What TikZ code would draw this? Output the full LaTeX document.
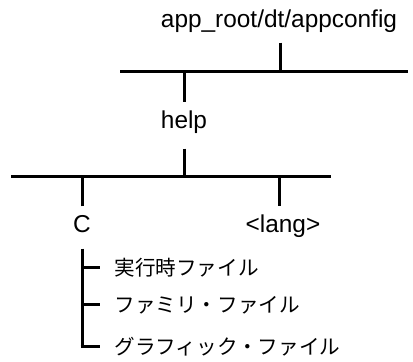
\documentclass[tikz,border=0pt]{standalone}
\usepackage{fontspec}
\setmainfont{Liberation Sans}
\newfontfamily\jpfont{Noto Sans CJK JP}
\usepackage{tikz}
\usetikzlibrary{positioning}

\begin{document}
\begin{tikzpicture}[x=0.5pt,y=-0.5pt,line width=1.5pt,
    dir/.style={font=\fontsize{12.2}{14}\selectfont,inner xsep=0pt,inner ysep=4pt,anchor=base},
    file/.style={font=\jpfont\fontsize{10.3}{12}\selectfont,inner xsep=6.5pt,inner ysep=0pt,anchor=west}]
    \useasboundingbox (0,0) rectangle (413,362);
    \node[dir] (root) at (279,28) {app\_root/dt/appconfig};
    \node[dir] (help) at (184,129) {help};
    \node[dir] (c) at (82,233) {C};
    \node[dir] (lang) at (283,233) {<lang>};
    \node[file] (f1) at (100,268) {実行時ファイル};
    \node[file] (f2) at (100,305) {ファミリ・ファイル};
    \node[file] (f3) at (100,347) {グラフィック・ファイル};
    \coordinate (topw) at (120,72);
    \coordinate (tope) at (408,72);
    \coordinate (botw) at (11,177);
    \coordinate (bote) at (331,177);
    \draw (topw) -- (tope);
    \draw (botw) -- (bote);
    \draw (280,0 |- root.south) -- (280,0 |- topw);
    \draw (help.north) -- (help.north |- topw);
    \draw ([yshift=-2.5pt]help.south) -- (help.south |- botw);
    \draw (c.north) -- (c.north |- botw);
    \draw (279,0 |- lang.north) -- (279,0 |- botw);
    \draw ([yshift=-3pt]c.south) -- (c.south |- f3.west);
    \draw (c.south |- f1.west) -- (f1.west);
    \draw (c.south |- f2.west) -- (f2.west);
    \draw ([xshift=-0.75pt]c.south |- f3.west) -- (f3.west);
\end{tikzpicture}
\end{document}
